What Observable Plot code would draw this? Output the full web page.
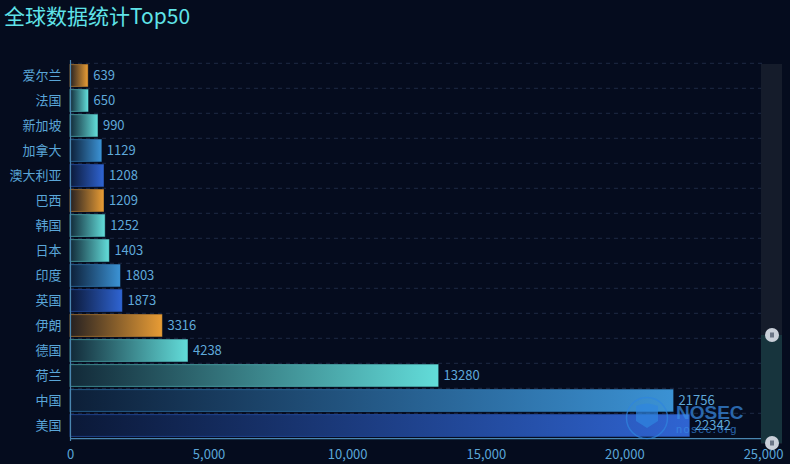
<!DOCTYPE html>
<html>
<head>
<meta charset="utf-8">
<script src="https://cdn.jsdelivr.net/npm/d3@7"></script>
<script src="https://cdn.jsdelivr.net/npm/@observablehq/plot@0.6"></script>
<style>
  html, body { margin: 0; padding: 0; background: #050c1e; }
  #wrap { position: relative; width: 790px; height: 464px; background: #050c1e; overflow: hidden; }
  #title { height: 40px; line-height: 30px; padding-left: 4px; font-size: 21px; color: #5fe3e8;
           font-family: "Noto Sans CJK SC", "Noto Sans", sans-serif; font-weight: 400; }
  #chart { height: 424px; }
  #chart svg { display: block; }
  #overlay { position: absolute; left: 0; top: 0; pointer-events: none; }
</style>
</head>
<body>
<div id="wrap">
  <div id="title">全球数据统计Top50</div>
  <div id="chart"></div>
</div>
<script>
// ---- data ----
const categories = ["爱尔兰", "法国", "新加坡", "加拿大", "澳大利亚", "巴西", "韩国", "日本", "印度", "英国", "伊朗", "德国", "荷兰", "中国", "美国"];
const values = [639, 650, 990, 1129, 1208, 1209, 1252, 1403, 1803, 1873, 3316, 4238, 13280, 21756, 22342];
const palette = ["#e89c35", "#62dcd9", "#62dcd9", "#3b92d4", "#2f64d2"];
const xTicks = [0, 5000, 10000, 15000, 20000, 25000];

const rows = categories.map((name, i) => ({name, value: values[i], g: i % palette.length}));

const W = 790, H = 424, mt = 20, mb = 23, ml = 70, mr = 27;
const step = (H - mt - mb) / categories.length;
const font = "'Noto Sans CJK SC', 'Noto Sans', sans-serif";
const fmt = d3.format(",");

const barMarks = palette.map((c, k) =>
  Plot.barX(rows.filter(d => d.g === k), {
    x: "value", y: "name", fill: `url(#grad${k})`,
    stroke: c, strokeOpacity: 0.55, strokeWidth: 1,
    insetTop: 1.6, insetBottom: 1.6
  })
);

const svg = Plot.plot({
  width: W, height: H,
  marginTop: mt, marginBottom: mb, marginLeft: ml, marginRight: mr,
  style: {background: "transparent", color: "#5aa6d8", fontSize: "13px", fontFamily: font},
  x: {domain: [0, 25000], label: null},
  y: {domain: categories, padding: 0, label: null},
  marks: [
    Plot.ruleY(categories, {dy: -step / 2, stroke: "#1d2a44", strokeDasharray: "4,4"}),
    ...barMarks,
    Plot.text(rows, {x: "value", y: "name", text: d => String(d.value), dx: 5, textAnchor: "start",
                     fill: "#5fa9da", fontSize: 13}),
    Plot.axisY({tickSize: 0, tickPadding: 9, fontSize: 13}),
    Plot.axisX({ticks: xTicks, tickSize: 0, tickPadding: 8, tickFormat: fmt, fontSize: 13}),
    Plot.ruleX([0], {stroke: "#4a86b0", strokeWidth: 1.2}),
    Plot.ruleY([categories[categories.length - 1]], {dy: step / 2, stroke: "#4a86b0", strokeWidth: 1.2})
  ]
});

// gradients
const defs = d3.select(svg).insert("defs", ":first-child");
palette.forEach((c, k) => {
  const g = defs.append("linearGradient").attr("id", `grad${k}`)
    .attr("x1", 0).attr("y1", 0).attr("x2", 1).attr("y2", 0);
  g.append("stop").attr("offset", "0%").attr("stop-color", c).attr("stop-opacity", 0.14);
  g.append("stop").attr("offset", "100%").attr("stop-color", c).attr("stop-opacity", 1);
});

document.getElementById("chart").appendChild(svg);

// overlay: data zoom slider + watermark
const ov = d3.select("#wrap").append("svg").attr("id", "overlay")
  .attr("width", 790).attr("height", 464);
ov.append("rect").attr("x", 761).attr("y", 64).attr("width", 21).attr("height", 380).attr("fill", "#151c2b");
ov.append("rect").attr("x", 761).attr("y", 335).attr("width", 21).attr("height", 108).attr("fill", "#17343d");
[335, 443].forEach(cy => {
  ov.append("circle").attr("cx", 772).attr("cy", cy).attr("r", 7).attr("fill", "#c9cfd9");
  ov.append("rect").attr("x", 770).attr("y", cy - 2.5).attr("width", 4).attr("height", 5).attr("fill", "#6b7586");
});
const wm = ov.append("g").attr("opacity", 0.7);
wm.append("circle").attr("cx", 647).attr("cy", 418).attr("r", 20.5).attr("fill", "none")
  .attr("stroke", "#2f86e0").attr("stroke-width", 1.5);
wm.append("path").attr("d", "M636,406 Q647,401 658,406 L658,421 L647,428 L636,421 Z").attr("fill", "#2f86e0");
wm.append("text").attr("x", 676).attr("y", 419).attr("font-size", 19).attr("font-weight", "bold")
  .attr("font-family", "'Liberation Sans', sans-serif").attr("fill", "#3b8ee6").text("NOSEC");
wm.append("text").attr("x", 676).attr("y", 433).attr("font-size", 11).attr("letter-spacing", 1.5)
  .attr("font-family", "'Liberation Sans', sans-serif").attr("fill", "#3b8ee6").text("nosec.org");
</script>
</body>
</html>
